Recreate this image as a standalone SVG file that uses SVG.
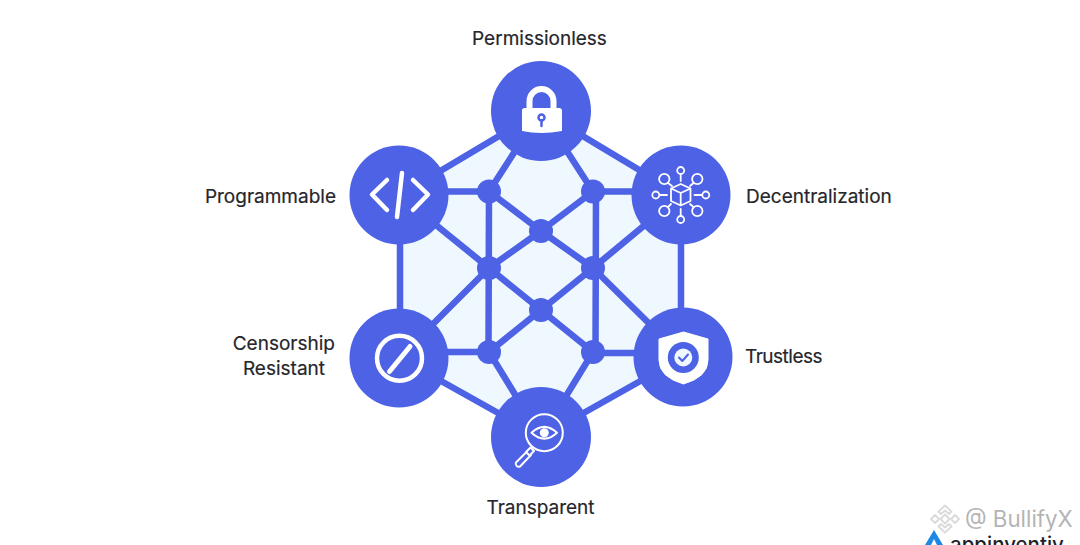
<svg xmlns="http://www.w3.org/2000/svg" width="1080" height="545" viewBox="0 0 1080 545">
<style>
.edge{stroke:#4d62e5;stroke-width:6.500;fill:none;stroke-linecap:round}
.big{fill:#4d62e5}
.dot{fill:#4d62e5}
.ic{fill:none;stroke:#fff;stroke-linecap:round;stroke-linejoin:round}
.lbl{font-family:"Inter","Liberation Sans",sans-serif;font-size:19px;font-weight:400;fill:#26262b;stroke:#26262b;stroke-width:.2}
</style>
<rect width="1080" height="545" fill="#fff"/>
<polygon points="541,111 681,195 681,357 541,437 400,358 400,195" fill="#eff7ff"/>
<g id="connectors">
<path class="edge" d="M541 111L400 195M541 111L681 195M400 195V358M681 195V357M400 358L541 437M683 357L541 437"/>
<path class="edge" d="M541 111L489 191.500M541 111L593 191.500M399 191.500H489M681 191.500H593M489 191.500L541 231M593 191.500L541 231M541 231L489 268M541 231L593 268"/>
<path class="edge" d="M489 191.500L488.500 352M596 191.500L595.500 352M399 195L489 268M681 195L593 268M399 358L489 268M683 357L593 268M489 268L541 310M593 268L541 310M541 310L489 352M541 310L593 352M399 352H489M683 353H593M541 437L489 352M541 437L593 352"/>
</g>
<g id="junctions">
<circle class="dot" cx="489" cy="191.500" r="12"/><circle class="dot" cx="593" cy="191.500" r="12"/>
<circle class="dot" cx="541" cy="231" r="12"/><circle class="dot" cx="489" cy="268" r="12"/>
<circle class="dot" cx="593" cy="268" r="12"/><circle class="dot" cx="541" cy="310" r="12"/>
<circle class="dot" cx="489" cy="352" r="12"/><circle class="dot" cx="593" cy="352" r="12"/>
</g>
<g id="permissionless">
<circle class="big" cx="541" cy="111" r="50"/>
<path d="M529.500 108V101a12 12 0 0 1 24 0V108" fill="none" stroke="#fff" stroke-width="6"/>
<path d="M524 108H559a3 3 0 0 1 3 2V131Q541 135 522 131V110a3 3 0 0 1 2-2Z" fill="#fff"/>
<circle cx="541.500" cy="117.500" r="3" fill="none" stroke="#4d62e5" stroke-width="2.500"/>
<path d="M541.500 120.500V126" stroke="#4d62e5" stroke-width="2.500" stroke-linecap="round"/>
<text class="lbl" x="539.500" y="45" text-anchor="middle">Permissionless</text>
</g>
<g id="programmable">
<circle class="big" cx="399" cy="195" r="49.500"/>
<path class="ic" stroke-width="4.500" d="M387 180L372 194.500L387 210M413 180L428 194.500L413 210M402 173L397 217"/>
<text class="lbl" x="336" y="203" text-anchor="end">Programmable</text>
</g>
<g id="decentralization">
<circle class="big" cx="681" cy="195" r="49.500"/>
<g class="ic" stroke-width="1.800">
<path d="M680.700 184L690.500 188.500V201L680.700 205.500L671 201V188.500ZM671 188.500L680.700 193L690.500 188.500M680.700 193V205.500"/>
<circle cx="680.700" cy="170.500" r="3.500"/><circle cx="680.700" cy="219.500" r="3.500"/>
<circle cx="655.800" cy="195" r="3.500"/><circle cx="705.800" cy="195" r="3.500"/>
<circle cx="664.300" cy="179" r="5.200"/><circle cx="697.300" cy="179" r="5.200"/>
<circle cx="664.300" cy="211" r="5.200"/><circle cx="697.300" cy="211" r="5.200"/>
<path d="M680.700 174V181M680.700 209V216M659.500 195H667M694.500 195H702M668 183L672 186M693.500 183L690 186M668 207L671 204M693.500 207L690 204"/>
</g>
<text class="lbl" x="746" y="203">Decentralization</text>
</g>
<g id="censorship-resistant">
<circle class="big" cx="399" cy="358" r="49.500"/>
<circle class="ic" cx="399.500" cy="358.300" r="22.500" stroke-width="4.500"/>
<path class="ic" stroke-width="5" d="M389.500 371.500L410 346.500"/>
<text class="lbl" text-anchor="end"><tspan x="335" y="350">Censorship</tspan><tspan x="325" y="375">Resistant</tspan></text>
</g>
<g id="trustless">
<circle class="big" cx="683" cy="357" r="49.500"/>
<path d="M683.500 332L708 339V360Q708 377 683.500 384Q659 377 659 360V339Z" fill="#fff" stroke="#fff" stroke-linejoin="round" stroke-width="1"/>
<circle cx="683.300" cy="357.500" r="15.500" fill="#4d62e5"/>
<circle cx="683.300" cy="357.500" r="9" fill="#eff7ff"/>
<path d="M679 357.500L682.300 361L688 354.500" fill="none" stroke="#4d62e5" stroke-width="2" stroke-linecap="round" stroke-linejoin="round"/>
<text class="lbl" x="745" y="363" letter-spacing="-.5">Trustless</text>
</g>
<g id="transparent">
<circle class="big" cx="541" cy="437" r="50"/>
<g class="ic" stroke-width="2">
<circle cx="544.300" cy="432.700" r="18.500"/>
<path d="M531.500 432.700Q544.300 421 557 432.700Q544.300 444.500 531.500 432.700Z"/>
<path d="M530.500 447.500L534 451L529.500 455.500L526 452ZM527 451.500L516 462.500a3 3 0 0 0 4 4L531 455"/>
</g>
<circle cx="544.300" cy="432.700" r="4.500" fill="#fff"/>
<text class="lbl" x="540.500" y="514" text-anchor="middle">Transparent</text>
</g>
<g id="watermark">
<g fill="none" stroke="#dadada" stroke-width="1.800" stroke-linejoin="round">
<path d="M945 514.500L949.500 519L945 523.500L940.500 519Z"/>
<path d="M935 515L939 519L935 523L931 519ZM955 515L959 519L955 523L951 519Z"/>
<path d="M938.500 511.500L945 505.500L951.500 511.500L949 514L945 510.500L941 514ZM938.500 526.500L945 532.500L951.500 526.500L949 524L945 527.500L941 524Z"/>
</g>
<text x="965" y="527" font-family="Inter,'Liberation Sans',sans-serif" font-size="22.300" fill="#b4b4b4">@ BullifyX</text>
<path d="M925 545L934 530L943 545H937L934 539L931 545Z" fill="#1e88e5"/>
<text x="950" y="552" font-family="Inter,'Liberation Sans',sans-serif" font-size="20.500" font-weight="500" fill="#1f1f2b">appinventiv</text>
</g>
</svg>
